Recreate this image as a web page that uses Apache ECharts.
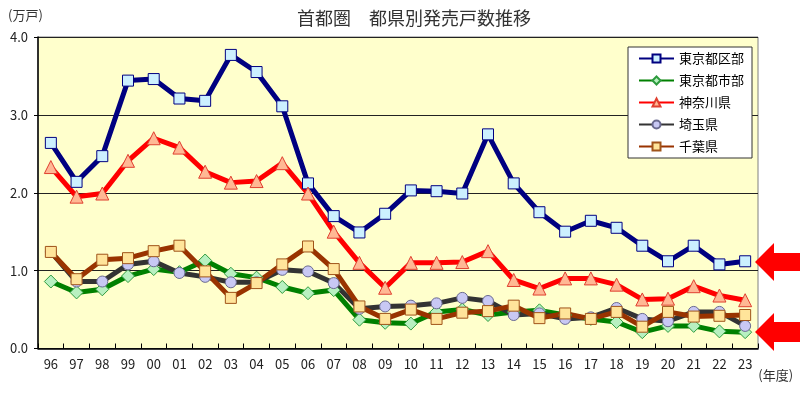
<!DOCTYPE html>
<html>
<head>
<meta charset="utf-8">
<script src="https://cdn.jsdelivr.net/npm/echarts@6/dist/echarts.min.js"></script>
<style>
html,body{margin:0;padding:0;background:#fff;}
#chart{width:800px;height:394px;}
</style>
</head>
<body>
<div id="chart"></div>
<script>
const categories = ['96','97','98','99','00','01','02','03','04','05','06','07','08','09','10','11','12','13','14','15','16','17','18','19','20','21','22','23'];
const yTicks = [0, 1, 2, 3, 4];
const tokyoKu  = [2.64,2.14,2.47,3.44,3.46,3.21,3.18,3.77,3.55,3.11,2.12,1.70,1.49,1.73,2.03,2.02,1.99,2.75,2.12,1.75,1.50,1.64,1.55,1.32,1.12,1.32,1.08,1.12];
const tokyoShi = [0.86,0.72,0.76,0.93,1.02,0.98,1.13,0.96,0.91,0.79,0.71,0.75,0.37,0.33,0.32,0.47,0.50,0.43,0.47,0.49,0.43,0.38,0.34,0.21,0.29,0.29,0.22,0.21];
const kanagawa = [2.33,1.95,1.99,2.41,2.70,2.58,2.27,2.13,2.15,2.38,1.99,1.50,1.10,0.78,1.10,1.10,1.11,1.25,0.88,0.77,0.90,0.90,0.82,0.63,0.64,0.80,0.68,0.62];
const saitama  = [1.24,0.86,0.86,1.08,1.12,0.97,0.92,0.85,0.85,1.01,0.99,0.84,0.51,0.54,0.55,0.58,0.65,0.61,0.43,0.45,0.38,0.40,0.52,0.38,0.35,0.47,0.47,0.29];
const chiba    = [1.24,0.89,1.14,1.16,1.25,1.32,0.99,0.65,0.84,1.08,1.31,1.02,0.54,0.38,0.50,0.38,0.46,0.48,0.55,0.39,0.45,0.38,0.47,0.28,0.47,0.41,0.42,0.43];
const seriesNames = ['東京都区部','東京都市部','神奈川県','埼玉県','千葉県'];

const FONT = '"Noto Sans CJK JP", "Noto Sans", sans-serif';
const chart = echarts.init(document.getElementById('chart'), null, {renderer: 'canvas'});

function mk(name, data, color, symbol, size, fill, border) {
  return {
    name: name, type: 'line', data: data,
    symbol: symbol, symbolSize: size, showSymbol: true,
    lineStyle: {color: color, width: 5},
    itemStyle: {color: fill, borderColor: border, borderWidth: 1},
    emphasis: {disabled: true},
    animation: false
  };
}

const option = {
  animation: false,
  backgroundColor: '#ffffff',
  title: {
    text: '首都圏　都県別発売戸数推移',
    left: 409, top: 4, textAlign: 'center',
    textStyle: {fontFamily: FONT, fontSize: 18, fontWeight: 'normal', color: '#333'}
  },
  legend: {
    orient: 'vertical', left: 628, top: 47,
    padding: [5, 8, 5, 10], itemGap: 9,
    itemWidth: 35, itemHeight: 10,
    backgroundColor: '#ffffff', borderColor: '#333', borderWidth: 1,
    textStyle: {fontFamily: FONT, fontSize: 13, color: '#000'},
    data: seriesNames
  },
  grid: {
    left: 38, right: 42, top: 37, bottom: 45.5,
    show: true, backgroundColor: '#FFFFCC', borderColor: '#808080', borderWidth: 1
  },
  xAxis: {
    type: 'category', data: categories, boundaryGap: true,
    name: '(年度)', nameLocation: 'end', nameGap: 0,
    nameTextStyle: {fontFamily: FONT, fontSize: 13, color: '#333', verticalAlign: 'top', padding: [20, 0, 0, 0]},
    axisLine: {lineStyle: {color: '#000', width: 1.5}},
    axisTick: {show: true, inside: true, length: 5, lineStyle: {color: '#000'}},
    axisLabel: {fontFamily: FONT, fontSize: 13, color: '#222', margin: 9}
  },
  yAxis: {
    type: 'value', min: yTicks[0], max: yTicks[yTicks.length - 1], interval: 1,
    name: '', 
    axisLine: {show: true, lineStyle: {color: '#000', width: 1.5}},
    axisTick: {show: true, length: 4, lineStyle: {color: '#000'}},
    axisLabel: {fontFamily: FONT, fontSize: 13, color: '#222', margin: 10,
      formatter: v => v.toFixed(1)},
    splitLine: {show: true, lineStyle: {color: '#222', width: 1}}
  },
  series: [
    mk(seriesNames[0], tokyoKu,  '#000080', 'rect', 11, '#CCF0FF', '#000080'),
    mk(seriesNames[1], tokyoShi, '#008000', 'diamond', 13, '#B8F0C0', '#2E9B3E'),
    mk(seriesNames[2], kanagawa, '#FF0000', 'triangle', 13, '#FFB894', '#E04030'),
    mk(seriesNames[3], saitama,  '#333333', 'circle', 11, '#C8C8F4', '#6A6A90'),
    mk(seriesNames[4], chiba,    '#993300', 'rect', 11, '#FFE49A', '#A0541A')
  ],
  graphic: [
    {type: 'text', left: 8, top: 9, silent: true,
     style: {text: '(万戸)', font: '13px "Noto Sans CJK JP", sans-serif', fill: '#333'}},
    {type: 'polygon', silent: true, shape: {points: [[755,262],[774,243],[774,253],[800,253],[800,271],[774,271],[774,281]]}, style: {fill: '#FF0000'}},
    {type: 'polygon', silent: true, shape: {points: [[755,332],[774,313],[774,322],[800,322],[800,342],[774,342],[774,351]]}, style: {fill: '#FF0000'}}
  ]
};
chart.setOption(option);
</script>
</body>
</html>
